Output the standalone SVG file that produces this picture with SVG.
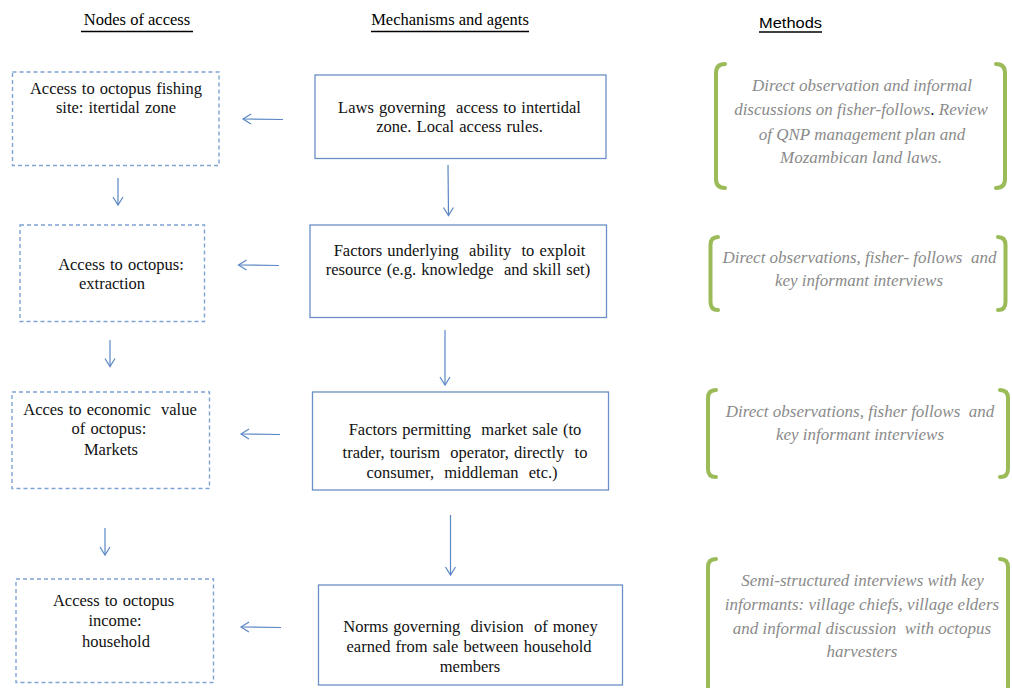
<svg xmlns="http://www.w3.org/2000/svg" width="1012" height="688" viewBox="0 0 1012 688">
  <style>
    .head { font-family: "Liberation Serif", "Times New Roman", serif; font-size: 16.5px; fill: #000; text-anchor: middle; }
    .head-sans { font-family: "Liberation Sans", Arial, sans-serif; font-size: 14.5px; fill: #000; text-anchor: middle; }
    .uline { stroke: #000; stroke-width: 1.6; }
    .node-dash { fill: #fff; stroke: #7FA3D3; stroke-width: 1.4; stroke-dasharray: 4 3; }
    .node-solid { fill: #fff; stroke: #6B8FC7; stroke-width: 1.3; }
    .label { font-family: "Liberation Serif", "Times New Roman", serif; font-size: 16.5px; fill: #111; text-anchor: middle; word-spacing: 1px; white-space: pre; }
    .method { font-family: "Liberation Serif", "Times New Roman", serif; font-style: italic; font-size: 17px; fill: #8A8A8A; text-anchor: middle; white-space: pre; }
    .bracket { fill: none; stroke: #9BBB59; stroke-width: 4; stroke-linecap: round; }
    .link { fill: none; stroke: #5B87C5; stroke-width: 1.2; marker-end: url(#vhead); }
  </style>
  <defs>
    <marker id="vhead" markerUnits="userSpaceOnUse" markerWidth="14" markerHeight="14" refX="9" refY="6" orient="auto">
      <polyline points="1,1 9,6 1,11" fill="none" stroke="#5B87C5" stroke-width="1.2"/>
    </marker>
  </defs>

  <rect width="1012" height="688" fill="#fff"/>

  <!-- column headings -->
  <g id="headings">
    <text class="head" x="137" y="25">Nodes of access</text>
    <line class="uline" x1="81" y1="31.5" x2="193" y2="31.5"/>
    <text class="head" x="450" y="25">Mechanisms and agents</text>
    <line class="uline" x1="371" y1="31.5" x2="529" y2="31.5"/>
    <text class="head-sans" x="790.5" y="28" textLength="63" lengthAdjust="spacingAndGlyphs">Methods</text>
    <line class="uline" x1="759" y1="32" x2="822" y2="32"/>
  </g>

  <!-- nodes of access -->
  <g id="node-site">
    <rect class="node-dash" x="12.5" y="72" width="206.5" height="93.5"/>
    <text class="label" x="116" y="94">Access to octopus fishing</text>
    <text class="label" x="116" y="113">site: itertidal zone</text>
  </g>
  <g id="node-extraction">
    <rect class="node-dash" x="20" y="225" width="184.5" height="96.5"/>
    <text class="label" x="121" y="270">Access to octopus:</text>
    <text class="label" x="112" y="289">extraction</text>
  </g>
  <g id="node-markets">
    <rect class="node-dash" x="12" y="392" width="197.5" height="96.5"/>
    <text class="label" x="110" y="415">Acces to economic  value</text>
    <text class="label" x="109" y="434">of octopus:</text>
    <text class="label" x="111" y="455">Markets</text>
  </g>
  <g id="node-income">
    <rect class="node-dash" x="16" y="579" width="197.5" height="103.5"/>
    <text class="label" x="113.5" y="606">Access to octopus</text>
    <text class="label" x="115" y="626">income:</text>
    <text class="label" x="116" y="647">household</text>
  </g>

  <!-- mechanisms and agents -->
  <g id="mech-laws">
    <rect class="node-solid" x="315" y="75" width="291" height="83.5"/>
    <text class="label" x="459.5" y="113">Laws governing  access to intertidal</text>
    <text class="label" x="459.5" y="132">zone. Local access rules.</text>
  </g>
  <g id="mech-ability">
    <rect class="node-solid" x="310" y="225" width="296.5" height="92.5"/>
    <text class="label" x="459.5" y="256">Factors underlying  ability  to exploit</text>
    <text class="label" x="458" y="275">resource (e.g. knowledge  and skill set)</text>
  </g>
  <g id="mech-market">
    <rect class="node-solid" x="312.5" y="392" width="296" height="98"/>
    <text class="label" x="465" y="435">Factors permitting  market sale (to</text>
    <text class="label" x="465" y="458">trader, tourism  operator, directly  to</text>
    <text class="label" x="462" y="478">consumer,  middleman  etc.)</text>
  </g>
  <g id="mech-norms">
    <rect class="node-solid" x="318.5" y="585" width="304" height="100"/>
    <text class="label" x="470.5" y="632">Norms governing  division  of money</text>
    <text class="label" x="469" y="652">earned from sale between household</text>
    <text class="label" x="470" y="672">members</text>
  </g>

  <!-- methods -->
  <g id="method-1">
    <path class="bracket" d="M725,64 Q716,64 716,73 V179 Q716,188 725,188"/>
    <path class="bracket" d="M996,64 Q1005,64 1005,73 V179 Q1005,188 996,188"/>
    <text class="method" x="862" y="91">Direct observation and informal</text>
    <text class="method" x="861" y="115">discussions on fisher-follows<tspan font-style="normal" fill="#111">.</tspan> Review</text>
    <text class="method" x="862" y="140">of QNP management plan and</text>
    <text class="method" x="861" y="163">Mozambican land laws.</text>
  </g>
  <g id="method-2">
    <path class="bracket" d="M718,237 Q710.5,237 710.5,245 V302 Q710.5,310 718,310"/>
    <path class="bracket" d="M998,237 Q1005.5,237 1005.5,245 V302 Q1005.5,310 998,310"/>
    <text class="method" x="859.5" y="263">Direct observations, fisher- follows  and</text>
    <text class="method" x="859" y="286">key informant interviews</text>
  </g>
  <g id="method-3">
    <path class="bracket" d="M716,390 Q708,390 708,398 V469 Q708,477 716,477"/>
    <path class="bracket" d="M1000,390 Q1008,390 1008,398 V469 Q1008,477 1000,477"/>
    <text class="method" x="860" y="417">Direct observations, fisher follows  and</text>
    <text class="method" x="860" y="440">key informant interviews</text>
  </g>
  <g id="method-4">
    <path class="bracket" d="M716,559 Q708,559 708,567 V700"/>
    <path class="bracket" d="M1000,559 Q1008,559 1008,567 V700"/>
    <text class="method" x="862.5" y="586">Semi-structured interviews with key</text>
    <text class="method" x="862" y="610">informants: village chiefs, village elders</text>
    <text class="method" x="862" y="634">and informal discussion  with octopus</text>
    <text class="method" x="862" y="657">harvesters</text>
  </g>

  <!-- connectors -->
  <g id="connectors">
    <line class="link" x1="283" y1="119.5" x2="243" y2="119"/>
    <line class="link" x1="279" y1="265.5" x2="238.5" y2="265"/>
    <line class="link" x1="280" y1="434.5" x2="241" y2="434"/>
    <line class="link" x1="281" y1="627.5" x2="241" y2="627"/>
    <line class="link" x1="118" y1="178" x2="118" y2="205"/>
    <line class="link" x1="110" y1="340" x2="110" y2="366.5"/>
    <line class="link" x1="105" y1="528" x2="105" y2="555"/>
    <line class="link" x1="448" y1="165" x2="448.5" y2="215.5"/>
    <line class="link" x1="445" y1="330" x2="445" y2="385"/>
    <line class="link" x1="450.5" y1="515" x2="450.5" y2="575"/>
  </g>
</svg>
